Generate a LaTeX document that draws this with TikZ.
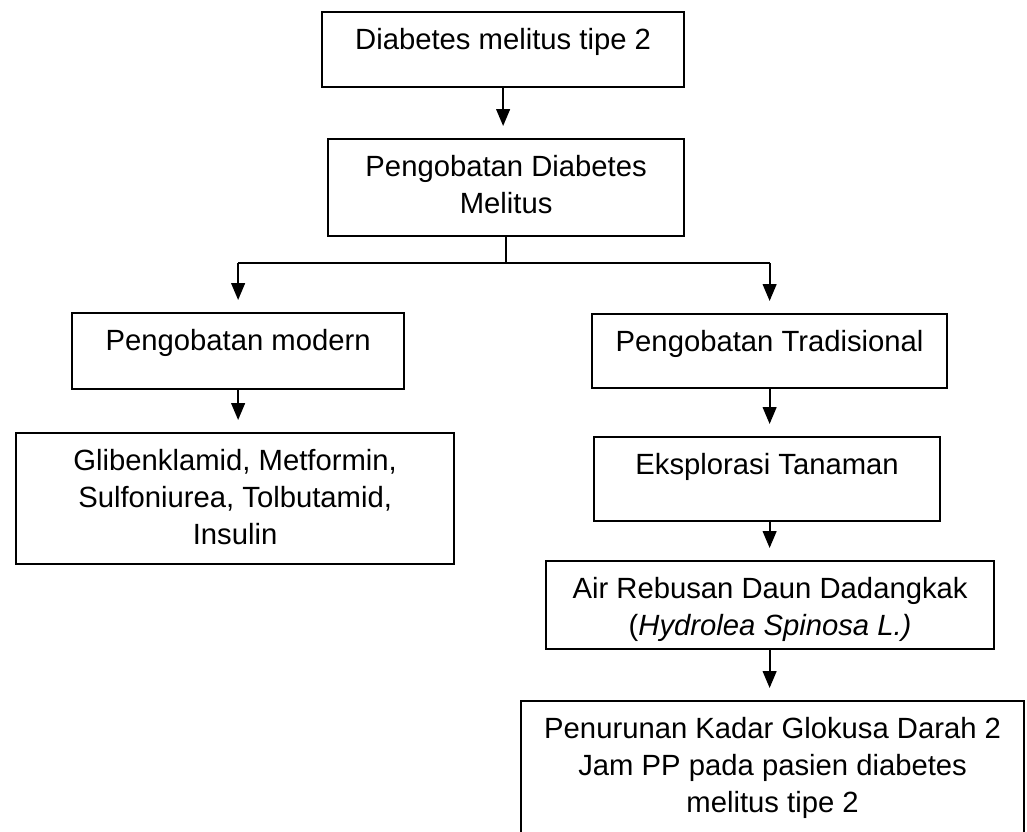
\documentclass[tikz,border=0pt]{standalone}
\usepackage{fontspec}
\setmainfont{Liberation Sans}
\usetikzlibrary{arrows.meta}

\tikzset{
  kotak/.style={draw, line width=1.6pt, anchor=north west, inner sep=0pt},
  isi/.style={anchor=north, align=center, inner sep=0pt, font=\fontsize{20.8}{26.3}\selectfont},
  panah/.style={-{Triangle[length=0.42cm,width=0.34cm]}, line width=1.4pt, shorten >=0.3cm},
  garis/.style={line width=1.1pt}
}

\begin{document}
\begin{tikzpicture}
\clip (0,0) rectangle (25.675,-20.8);
% kotak-kotak
\node[kotak, minimum width=9.05cm, minimum height=1.875cm] (dm) at (8.025,-0.275) {};
\node[kotak, minimum width=8.9cm, minimum height=2.425cm] (pdm) at (8.175,-3.45) {};
\node[kotak, minimum width=8.3cm, minimum height=1.9cm] (modern) at (1.775,-7.8) {};
\node[kotak, minimum width=10.95cm, minimum height=3.275cm] (obat) at (0.375,-10.8) {};
\node[kotak, minimum width=8.875cm, minimum height=1.85cm] (trad) at (14.775,-7.825) {};
\node[kotak, minimum width=8.65cm, minimum height=2.1cm] (eks) at (14.825,-10.9) {};
\node[kotak, minimum width=11.2cm, minimum height=2.2cm] (air) at (13.625,-14.0) {};
\node[kotak, minimum width=12.575cm, minimum height=3.75cm] (hasil) at (13.0,-17.5) {};
% teks
\node[isi] (dm-t) at ([yshift=-0.425cm]dm.north) {Diabetes melitus tipe 2};
\node[isi] (pdm-t) at ([yshift=-0.425cm]pdm.north) {Pengobatan Diabetes\\Melitus};
\node[isi] (modern-t) at ([yshift=-0.425cm]modern.north) {Pengobatan modern};
\node[isi] (obat-t) at ([yshift=-0.425cm]obat.north) {Glibenklamid, Metformin,\\Sulfoniurea, Tolbutamid,\\Insulin};
\node[isi] (trad-t) at ([yshift=-0.425cm]trad.north) {Pengobatan Tradisional};
\node[isi] (eks-t) at ([yshift=-0.425cm]eks.north) {Eksplorasi Tanaman};
\node[isi] (air-t) at ([yshift=-0.425cm]air.north) {Air Rebusan Daun Dadangkak\\(\textit{Hydrolea Spinosa L.)}};
\node[isi] (hasil-t) at ([yshift=-0.425cm]hasil.north) {Penurunan Kadar Glokusa Darah 2\\Jam PP pada pasien diabetes\\melitus tipe 2};
% panah
\coordinate (cabang) at (pdm.south |- 0,-6.575);
\draw[panah] (dm.south) -- (dm.south |- pdm.north);
\draw[garis] (pdm.south) -- (cabang);
\draw[garis] (modern.north |- cabang) -- (trad.north |- cabang);
\draw[panah] (modern.north |- cabang) -- (modern.north);
\draw[panah] (trad.north |- cabang) -- (trad.north);
\draw[panah] (modern.south) -- (modern.south |- obat.north);
\draw[panah] (trad.south) -- (trad.south |- eks.north);
\draw[panah] (trad.south |- eks.south) -- (trad.south |- air.north);
\draw[panah] (trad.south |- air.south) -- (trad.south |- hasil.north);
\end{tikzpicture}
\end{document}
